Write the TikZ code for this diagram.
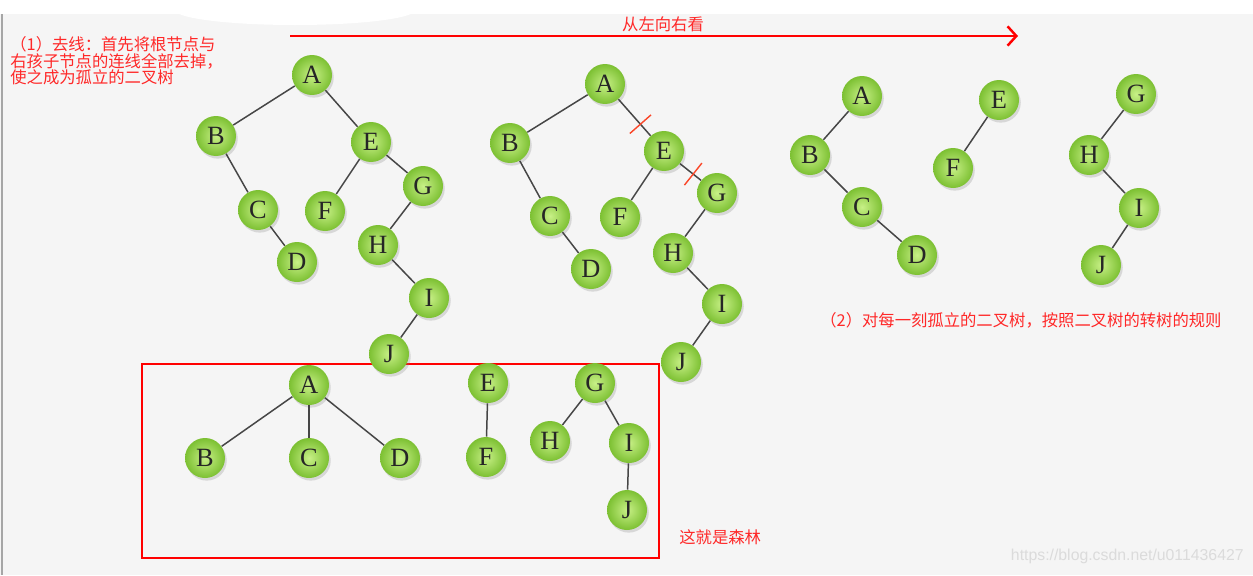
\documentclass[tikz,border=0pt]{standalone}
\usepackage{fontspec}
\newfontfamily\cjk{Noto Sans CJK SC}
\newfontfamily\letterfont{Liberation Serif}
\newfontfamily\markfont{Liberation Sans}
\usetikzlibrary{arrows.meta,calc,shadows}
\definecolor{ballin}{RGB}{200,240,135}
\definecolor{ballout}{RGB}{124,192,50}
\definecolor{notered}{RGB}{255,40,40}
\definecolor{edgegray}{RGB}{70,70,70}
\definecolor{bggray}{RGB}{245,245,245}
\definecolor{cutred}{RGB}{250,70,40}
\tikzset{
  ball/.style={circle,minimum size=0.8cm,inner sep=0pt,
    shading=radial,inner color=ballin,outer color=ballout,
    drop shadow={opacity=0.25,shadow xshift=1pt,shadow yshift=-1.5pt},
    font=\letterfont\fontsize{15}{15}\selectfont,text=black!85},
  note/.style={text=notered,font=\cjk\fontsize{9.3}{9.4}\selectfont,
    align=left,anchor=west,inner sep=0pt},
  cut/.style={draw=cutred,line width=0.8pt},
}
\begin{document}
\begin{tikzpicture}[x=0.02cm,y=-0.02cm]
  \useasboundingbox (0,0) rectangle (1253,575);
  % background
  \fill[bggray] (0,14) rectangle (1253,575);
  \draw[gray!70,line width=0.8pt] (2,14) -- (2,575);

  % note texts
  \node[note] (n1) at (10,61) {（1）去线：首先将根节点与\\右孩子节点的连线全部去掉，\\使之成为孤立的二叉树};
  \node[note,anchor=center] (n0) at (663,24) {从左向右看};
  \node[note] (n2) at (820,320) {（2）对每一刻孤立的二叉树，按照二叉树的转树的规则};
  \node[note] (n3) at (679,537) {这就是森林};
  \node[anchor=east,inner sep=0pt,text=black!14,font=\markfont\fontsize{9}{9}\selectfont] (wm) at (1244,556) {https://blog.csdn.net/u011436427};

  % top white strip
  \fill[white] (0,0) rectangle (1253,14);
  \fill[white] (295,10) ellipse (120 and 15);

  % arrow
  \coordinate (arrowstart) at (290,36);
  \coordinate (arrowend) at (1018,36);
  \draw[red,line width=1.4pt,-{Straight Barb[length=5pt,width=11pt]}] (arrowstart) -- (arrowend);

  % red box
  \draw[red,line width=1.1pt] (142,364) rectangle (659,558);

  % tree 1
  \draw
    (312,75) node[ball] (a1){A}
    (216,136) node[ball] (b1){B}
    (371,142) node[ball] (e1){E}
    (258,210) node[ball] (c1){C}
    (325,211) node[ball] (f1){F}
    (423,186) node[ball] (g1){G}
    (297,262) node[ball] (d1){D}
    (378,245) node[ball] (h1){H}
    (429,298) node[ball] (i1){I}
    (389,354) node[ball] (j1){J};

  % tree 2
  \draw
    (605,84) node[ball] (a2){A}
    (510,143) node[ball] (b2){B}
    (664,151) node[ball] (e2){E}
    (550,216) node[ball] (c2){C}
    (620,217) node[ball] (f2){F}
    (717,193) node[ball] (g2){G}
    (591,269) node[ball] (d2){D}
    (673,253) node[ball] (h2){H}
    (722,304) node[ball] (i2){I}
    (681,362) node[ball] (j2){J};

  % tree 3
  \draw
    (862,96) node[ball] (a3){A}
    (810,155) node[ball] (b3){B}
    (862,207) node[ball] (c3){C}
    (917,255) node[ball] (d3){D}
    (999,100) node[ball] (e3){E}
    (953,168) node[ball] (f3){F}
    (1136,94) node[ball] (g3){G}
    (1089,155) node[ball] (h3){H}
    (1139,208) node[ball] (i3){I}
    (1101,265) node[ball] (j3){J};

  % forest
  \draw
    (309,385) node[ball] (a4){A}
    (205,458) node[ball] (b4){B}
    (309,458) node[ball] (c4){C}
    (400,458) node[ball] (d4){D}
    (488,383) node[ball] (e4){E}
    (486,457) node[ball] (f4){F}
    (595,383) node[ball] (g4){G}
    (550,441) node[ball] (h4){H}
    (629,443) node[ball] (i4){I}
    (627,510) node[ball] (j4){J};

  \begin{scope}[draw=edgegray,line width=0.85pt]
    \draw (a1) to (b1);
    \draw (a1) to (e1);
    \draw (b1) to (c1);
    \draw (c1) to (d1);
    \draw (e1) to (f1);
    \draw (e1) to (g1);
    \draw (g1) to (h1);
    \draw (h1) to (i1);
    \draw (i1) to (j1);
    \draw (a2) to (b2);
    \draw (a2) to (e2);
    \draw (b2) to (c2);
    \draw (c2) to (d2);
    \draw (e2) to (f2);
    \draw (e2) to (g2);
    \draw (g2) to (h2);
    \draw (h2) to (i2);
    \draw (i2) to (j2);
    \draw (a3) to (b3);
    \draw (b3) to (c3);
    \draw (c3) to (d3);
    \draw (e3) to (f3);
    \draw (g3) to (h3);
    \draw (h3) to (i3);
    \draw (i3) to (j3);
    \draw (a4) to (b4);
    \draw (a4) to (c4);
    \draw (a4) to (d4);
    \draw (e4) to (f4);
    \draw (g4) to (h4);
    \draw (g4) to (i4);
    \draw (i4) to (j4);
  \end{scope}

  % cut marks
  \coordinate (cutae) at ($(a2)!0.6!(e2)$);
  \coordinate (cuteg) at ($(e2)!0.55!(g2)$);
  \draw[cut] ($(cutae)!8pt!90:(e2)$) -- ($(cutae)!8pt!-90:(e2)$);
  \draw[cut] ($(cuteg)!8pt!90:(g2)$) -- ($(cuteg)!8pt!-90:(g2)$);
\end{tikzpicture}
\end{document}
